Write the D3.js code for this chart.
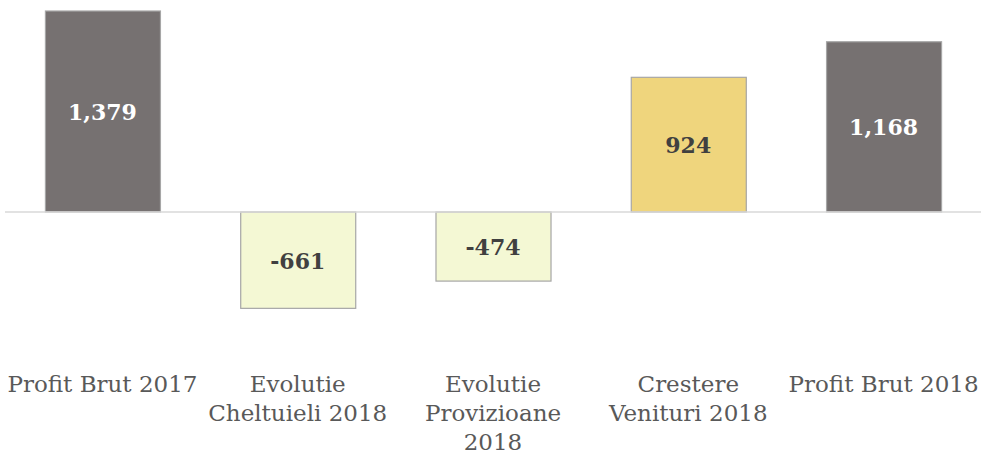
<!DOCTYPE html>
<html>
<head>
<meta charset="utf-8">
<script src="https://cdn.jsdelivr.net/npm/d3@7"></script>
<style>
  body { margin: 0; background: #fff; }
  svg { display: block; }
</style>
</head>
<body>
<svg width="982" height="454"></svg>
<script>
// data
const categories = ["Profit Brut 2017", "Evolutie\nCheltuieli 2018", "Evolutie\nProvizioane\n2018", "Crestere\nVenituri 2018", "Profit Brut 2018"]
const values = [1379, -661, -474, 924, 1168]
const valueLabels = ["1,379", "-661", "-474", "924", "1,168"]
const kinds = ["total", "down", "down", "up", "total"]

const fills = {total: "#767171", down: "#f4f8d4", up: "#efd57d"}
const textFill = {total: "#ffffff", down: "#404040", up: "#404040"}

const svg = d3.select("svg")

// scales
const x = d3.scaleBand()
  .domain(categories)
  .range([5, 981])
  .paddingInner(0.411)
  .paddingOuter(0.2045)

const pxPerUnit = 201 / 1379
const y = d3.scaleLinear()
  .domain([-800, 1400])
  .range([212 + 800 * pxPerUnit, 212 - 1400 * pxPerUnit])

// bars
svg.append("g")
  .selectAll("rect")
  .data(values)
  .join("rect")
  .attr("x", (d, i) => x(categories[i]) + 0.5)
  .attr("width", x.bandwidth())
  .attr("y", d => y(Math.max(0, d)))
  .attr("height", d => Math.abs(y(d) - y(0)))
  .attr("fill", (d, i) => fills[kinds[i]])
  .attr("stroke", "#a6a6a6")
  .attr("stroke-width", 1.2)

// zero line
svg.append("line")
  .attr("x1", 5)
  .attr("x2", 981)
  .attr("y1", y(0))
  .attr("y2", y(0))
  .attr("stroke", "#d9d9d9")
  .attr("stroke-width", 1.5)

// value labels
svg.append("g")
  .selectAll("text")
  .data(values)
  .join("text")
  .attr("x", (d, i) => x(categories[i]) + x.bandwidth() / 2)
  .attr("y", d => (y(d) + y(0)) / 2)
  .attr("dy", "0.38em")
  .attr("text-anchor", "middle")
  .attr("font-family", "'DejaVu Serif', serif")
  .attr("font-weight", "bold")
  .attr("font-size", 22)
  .attr("fill", (d, i) => textFill[kinds[i]])
  .text((d, i) => valueLabels[i])

// category labels
const catG = svg.append("g")
  .attr("font-family", "'DejaVu Serif', serif")
  .attr("font-size", 23)
  .attr("fill", "#595959")
  .attr("text-anchor", "middle")

categories.forEach(c => {
  const t = catG.append("text")
    .attr("x", x(c) + x.bandwidth() / 2)
    .attr("y", 392)
  c.split("\n").forEach((line, j) => {
    t.append("tspan")
      .attr("x", x(c) + x.bandwidth() / 2)
      .attr("dy", j === 0 ? 0 : 29)
      .text(line)
  })
})
</script>
</body>
</html>
